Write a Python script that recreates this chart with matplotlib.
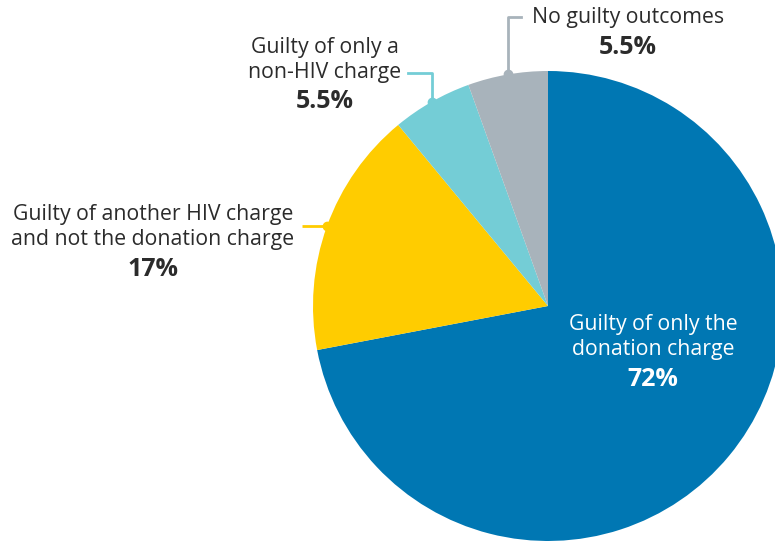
import numpy as np
import matplotlib
matplotlib.use("Agg")
import matplotlib.pyplot as plt

plt.rcParams["font.family"] = ["Open Sans", "DejaVu Sans"]

# data
labels = ["Guilty of only the\ndonation charge",
          "Guilty of another HIV charge\nand not the donation charge",
          "Guilty of only a\nnon-HIV charge",
          "No guilty outcomes"]
values = [72, 17, 5.5, 5.5]
pct_text = ["72%", "17%", "5.5%", "5.5%"]
colors = ["#0077b3", "#ffcc00", "#74cdd6", "#a8b3bb"]

W, H = 775, 541
fig = plt.figure(figsize=(W / 100, H / 100), dpi=100)
ax = fig.add_axes([0, 0, 1, 1])

cx, cy, r = 548, H - 306, 235
wedges, _ = ax.pie(values, colors=colors, startangle=90, counterclock=False,
                   center=(cx, cy), radius=r, frame=True,
                   wedgeprops=dict(linewidth=0))
ax.set_xlim(0, W)
ax.set_ylim(0, H)
ax.set_aspect("equal")
ax.axis("off")

txt = "#2b2b2b"
fs_lab, fs_pct, ls = 15.3, 18, 1.2

# blue label inside
ax.text(653, H - 337, labels[0], ha="center", va="center", fontsize=fs_lab,
        color="white", linespacing=ls)
ax.text(653, H - 379, pct_text[0], ha="center", va="center", fontsize=fs_pct,
        color="white", fontweight="bold")


def edge_pt(w):
    a = np.deg2rad((w.theta1 + w.theta2) / 2)
    return cx + r * np.cos(a), cy + r * np.sin(a)


# yellow
x0, y0 = edge_pt(wedges[1])
ax.plot([x0, 302], [y0, y0], color=colors[1], lw=2, solid_capstyle="butt")
ax.plot(x0, y0, "o", color=colors[1], ms=6)
ax.text(153, H - 227, labels[1], ha="center", va="center", fontsize=fs_lab,
        color=txt, linespacing=ls)
ax.text(153, H - 270, pct_text[1], ha="center", va="center", fontsize=fs_pct,
        color=txt, fontweight="bold")

# teal
x0, y0 = edge_pt(wedges[2])
ax.plot([x0, x0, 408], [y0, H - 73, H - 73], color=colors[2], lw=2)
ax.plot(x0, y0, "o", color=colors[2], ms=6)
ax.text(325, H - 60, labels[2], ha="center", va="center", fontsize=fs_lab,
        color=txt, linespacing=ls)
ax.text(325, H - 101, pct_text[2], ha="center", va="center", fontsize=fs_pct,
        color=txt, fontweight="bold")

# grey
x0, y0 = edge_pt(wedges[3])
ax.plot([x0, x0, 521], [y0, H - 17, H - 17], color=colors[3], lw=2)
ax.plot(x0, y0, "o", color=colors[3], ms=6)
ax.text(628, H - 17, labels[3], ha="center", va="center", fontsize=fs_lab,
        color=txt)
ax.text(628, H - 47, pct_text[3], ha="center", va="center", fontsize=fs_pct,
        color=txt, fontweight="bold")

fig.savefig("out.png", dpi=100)
